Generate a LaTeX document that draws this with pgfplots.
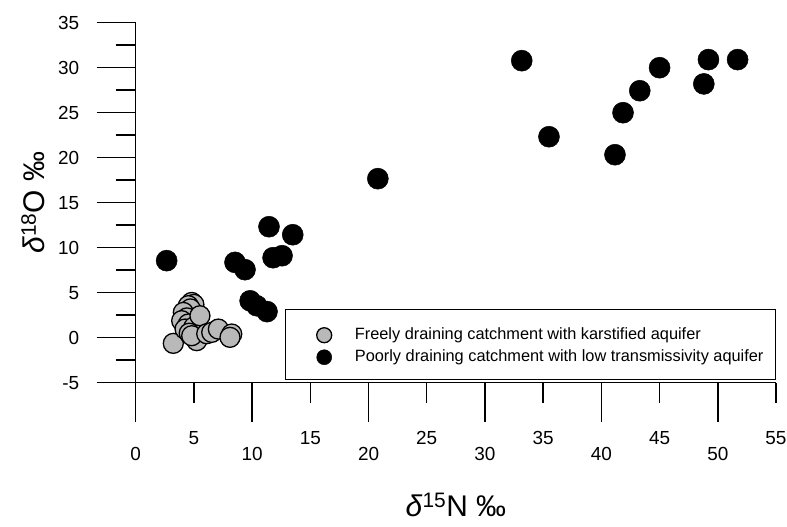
\documentclass[border=0pt]{standalone}
\usepackage{fontspec}
\setmainfont{Liberation Sans}
\usepackage{pgfplots}
\pgfplotsset{compat=1.18}
\definecolor{greyfill}{RGB}{185,185,185}

\begin{document}
\begin{tikzpicture}
\begin{axis}[
  scale only axis, width=640.3bp, height=360bp,
  xmin=0, xmax=55, ymin=-5, ymax=35,
  axis x line*=bottom, axis y line*=left,
  axis line style={line width=1.4bp},
  xtick={0,10,...,50},
  extra x ticks={5,15,...,55},
  extra x tick style={major tick length=20bp, xticklabel style={yshift=-3bp}},
  ytick={-5,0,...,35}, minor y tick num=1,
  tick align=outside,
  major tick length=39bp, minor tick length=20bp,
  tick style={black, line width=1.5bp},
  tick label style={font=\fontsize{19}{22}\selectfont},
  /pgf/number format/assume math mode=true,
  xticklabel style={yshift=-22bp},
  yticklabel style={xshift=-14bp},
  xlabel={\textit{δ}\textsuperscript{15}N ‰},
  ylabel={\textit{δ}\textsuperscript{18}O ‰},
  label style={font=\fontsize{30}{34}\selectfont},
  xlabel style={at={(axis description cs:0.5,-0.339)}, anchor=center},
  ylabel style={at={(axis description cs:-0.16,0.5)}, anchor=center, rotate=0},
  clip=false,
  legend cell align=left,
  legend style={at={(axis cs:12.83,3.22)}, anchor=north west,
    draw=black, line width=1bp, inner xsep=12bp, inner ysep=0bp,
    row sep=-26bp,
    font=\fontsize{16.4}{19}\selectfont,
    nodes={inner sep=0bp, text height=30bp, text depth=18bp}},
  legend image code/.code={
    \path (0bp,0bp) (56bp,0bp);
    \path[#1, mark size=7.5bp] plot coordinates {(26bp,-2bp)};
  },
]
\addplot[only marks, mark=*, mark size=10bp, draw=black, fill=greyfill, line width=1.3bp]
  coordinates {
  (3.23,-0.63) (4.81,3.92) (5.00,3.70) (4.52,3.56) (4.70,3.20) (4.09,2.81)
  (4.40,2.20) (3.95,1.89) (4.52,1.52) (4.24,0.96) (5.00,1.20) (4.60,0.50)
  (5.52,2.44) (5.24,-0.33) (4.81,0.22) (6.10,0.44) (6.53,0.59) (7.10,0.96)
  (8.25,0.41) (8.10,0.04)
  };
\addlegendentry{Freely draining catchment with karstified aquifer}
\addplot[only marks, mark=*, mark size=10.5bp, draw=black, fill=black, line width=0.5bp]
  coordinates {
  (2.66,8.56) (8.53,8.37) (9.39,7.56) (11.45,12.33) (13.49,11.44)
  (11.80,8.89) (12.57,9.11) (9.83,4.10) (10.40,3.55) (11.28,2.90)
  (20.80,17.67) (33.16,30.78) (35.50,22.33) (41.17,20.33) (41.86,25.00)
  (43.30,27.44) (45.00,30.00) (48.80,28.20) (49.20,30.90) (51.70,30.90)
  };
\addlegendentry{Poorly draining catchment with low transmissivity aquifer}
\end{axis}
\pgfresetboundingbox
\path[use as bounding box] (-135.7bp,-144.3bp) rectangle (651.3bp,382.7bp);
\end{tikzpicture}
\end{document}
